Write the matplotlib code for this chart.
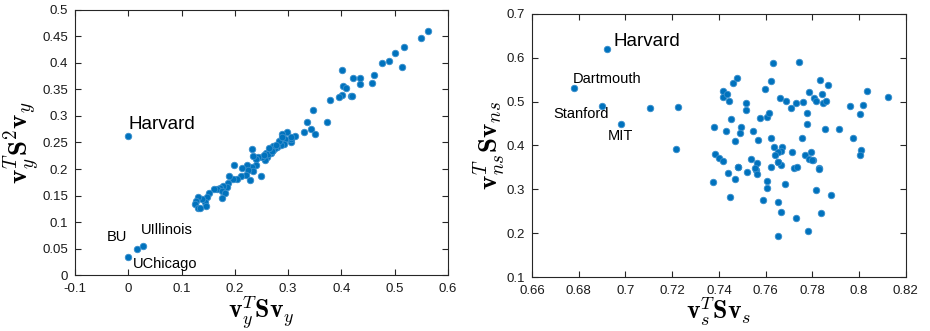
import numpy as np
import matplotlib
matplotlib.use("Agg")
import matplotlib.pyplot as plt

plt.rcParams['font.family'] = ['Liberation Sans', 'DejaVu Sans']
plt.rcParams['mathtext.fontset'] = 'cm'

# ---------------- data ----------------
# left panel: v_y^T S v_y  vs  v_y^T S^2 v_y
left_x = [0.563, 0.550, 0.517, 0.501, 0.514, 0.489, 0.476, 0.461, 0.4575, 0.435,
          0.4226, 0.434, 0.4007, 0.403, 0.408, 0.4175, 0.420, 0.4007, 0.3956, 0.378,
          0.3476, 0.335, 0.373, 0.343, 0.351, 0.329, 0.3126, 0.298, 0.289, 0.306,
          0.306, 0.294, 0.285, 0.2325, 0.306, 0.2925, 0.286, 0.283, 0.2876, 0.279,
          0.272, 0.2676, 0.261, 0.256, 0.2594, 0.251, 0.2426, 0.240, 0.2338, 0.250,
          0.275, 0.266, 0.271, 0.2388, 0.2313, 0.2344, 0.2225, 0.225, 0.2206, 0.2276,
          0.2126, 0.1976, 0.2113, 0.2044, 0.197, 0.1894, 0.1875, 0.1856, 0.178, 0.172,
          0.1663, 0.1613, 0.1751, 0.1813, 0.1763, 0.1513, 0.147, 0.1438, 0.1388, 0.145,
          0.130, 0.1264, 0.125, 0.131, 0.135, 0.263, 0.269, 0.277, 0.255, 0.265,
          0.0, 0.0, 0.0163, 0.027]
left_y = [0.461, 0.447, 0.431, 0.418, 0.392, 0.403, 0.399, 0.377, 0.362, 0.372,
          0.371, 0.360, 0.387, 0.357, 0.352, 0.337, 0.337, 0.340, 0.335, 0.331,
          0.311, 0.289, 0.289, 0.275, 0.266, 0.269, 0.262, 0.270, 0.266, 0.251,
          0.256, 0.256, 0.250, 0.238, 0.261, 0.248, 0.246, 0.252, 0.261, 0.241,
          0.236, 0.231, 0.223, 0.217, 0.2296, 0.223, 0.223, 0.219, 0.2245, 0.187,
          0.239, 0.237, 0.243, 0.2075, 0.203, 0.196, 0.2075, 0.198, 0.1887, 0.179,
          0.201, 0.2075, 0.187, 0.1806, 0.182, 0.187, 0.174, 0.1655, 0.168, 0.164,
          0.1628, 0.1623, 0.159, 0.154, 0.1447, 0.154, 0.1466, 0.1377, 0.1428, 0.130,
          0.1466, 0.140, 0.134, 0.126, 0.126, 0.228, 0.234, 0.245, 0.226, 0.240,
          0.262, 0.0334, 0.0485, 0.054]
left_names = ['Harvard', 'BU', 'UIllinois', 'UChicago']
left_name_pos = [(0.001, 0.284), (-0.0405, 0.0717), (0.0234, 0.085), (0.0086, 0.0208)]
left_name_size = [13.5, 10.5, 10.5, 10.5]

# right panel: v_s^T S v_s  vs  v_ns^T S v_ns
right_x = [0.692, 0.678, 0.690, 0.698, 0.7105, 0.7225, 0.7216, 0.738, 0.7418, 0.7416,
           0.7433, 0.7442, 0.746, 0.7477, 0.7451, 0.743, 0.7494, 0.7491, 0.7471, 0.7517,
           0.7516, 0.7547, 0.7569, 0.7578, 0.7604, 0.7613, 0.7597, 0.7621, 0.7631, 0.7662,
           0.7688, 0.7708, 0.7728, 0.7743, 0.7762, 0.7779, 0.7779, 0.7786, 0.7806, 0.7815,
           0.7831, 0.7842, 0.7846, 0.7857, 0.7868, 0.7852, 0.7915, 0.7962, 0.8003, 0.8016,
           0.8035, 0.8122, 0.7975, 0.8009, 0.8006, 0.7622, 0.7634, 0.7668, 0.7667, 0.7652,
           0.7638, 0.7713, 0.7754, 0.7768, 0.7794, 0.7786, 0.7802, 0.7383, 0.7401, 0.7416,
           0.7538, 0.7561, 0.7480, 0.7654, 0.7664, 0.7622, 0.7722, 0.7735, 0.7828, 0.7374,
           0.7447, 0.7437, 0.7467, 0.7481, 0.7520, 0.7558, 0.7561, 0.7553, 0.7604, 0.7605,
           0.7587, 0.7651, 0.7682, 0.7651, 0.7667, 0.7655, 0.7731, 0.7782, 0.7815, 0.7835,
           0.7878, 0.7827, 0.7799]
right_y = [0.620, 0.530, 0.490, 0.450, 0.4856, 0.488, 0.392, 0.442, 0.525, 0.511,
           0.517, 0.501, 0.543, 0.553, 0.460, 0.433, 0.442, 0.429, 0.411, 0.497,
           0.481, 0.432, 0.413, 0.463, 0.465, 0.474, 0.528, 0.546, 0.588, 0.508,
           0.501, 0.485, 0.496, 0.590, 0.499, 0.473, 0.448, 0.522, 0.508, 0.501,
           0.549, 0.517, 0.497, 0.501, 0.537, 0.437, 0.437, 0.489, 0.471, 0.492,
           0.524, 0.511, 0.418, 0.390, 0.378, 0.416, 0.397, 0.397, 0.387, 0.385,
           0.378, 0.386, 0.418, 0.378, 0.385, 0.369, 0.368, 0.381, 0.371, 0.365,
           0.369, 0.359, 0.352, 0.363, 0.356, 0.350, 0.348, 0.350, 0.348, 0.316,
           0.283, 0.337, 0.324, 0.351, 0.340, 0.344, 0.335, 0.348, 0.320, 0.304,
           0.275, 0.270, 0.312, 0.362, 0.248, 0.193, 0.234, 0.205, 0.298, 0.246,
           0.287, 0.347, 0.367]
right_names = ['Harvard', 'Dartmouth', 'Stanford', 'MIT']
right_name_pos = [(0.695, 0.637), (0.6776, 0.552), (0.669, 0.472), (0.6926, 0.422)]
right_name_size = [13.5, 10.5, 10.5, 10.5]

left_xticks = [-0.1, 0, 0.1, 0.2, 0.3, 0.4, 0.5, 0.6]
left_xlabels = ['-0.1', '0', '0.1', '0.2', '0.3', '0.4', '0.5', '0.6']
left_yticks = [0, 0.05, 0.1, 0.15, 0.2, 0.25, 0.3, 0.35, 0.4, 0.45, 0.5]
left_ylabels = ['0', '0.05', '0.1', '0.15', '0.2', '0.25', '0.3', '0.35', '0.4', '0.45', '0.5']
right_xticks = [0.66, 0.68, 0.70, 0.72, 0.74, 0.76, 0.78, 0.80, 0.82]
right_xlabels = ['0.66', '0.68', '0.7', '0.72', '0.74', '0.76', '0.78', '0.8', '0.82']
right_yticks = [0.1, 0.2, 0.3, 0.4, 0.5, 0.6, 0.7]
right_ylabels = ['0.1', '0.2', '0.3', '0.4', '0.5', '0.6', '0.7']

# ---------------- plotting ----------------
dot_color = '#0072BD'
axis_color = '#262626'

fig = plt.figure(figsize=(9.3, 3.31), dpi=100)
ax1 = fig.add_axes([0.0806, 0.169, 0.4011, 0.801])
ax2 = fig.add_axes([0.572, 0.163, 0.402, 0.795])


def style_axis(ax):
    for sp in ax.spines.values():
        sp.set_color(axis_color)
        sp.set_linewidth(0.8)
    ax.tick_params(direction='in', top=True, right=True, length=4, width=0.8,
                   colors=axis_color, labelsize=9.5, labelcolor='#1a1a1a')
    ax.tick_params(axis='y', pad=5)
    ax.tick_params(axis='x', pad=6)


ax1.scatter(left_x, left_y, s=22, color=dot_color, edgecolors='#3a8fcc', linewidths=0.6, zorder=3)
for name, (tx, ty), fs in zip(left_names, left_name_pos, left_name_size):
    ax1.text(tx, ty, name, fontsize=fs, va='center', ha='left')
ax1.set_xlim(-0.1, 0.6)
ax1.set_ylim(0, 0.5)
ax1.set_xticks(left_xticks)
ax1.set_xticklabels(left_xlabels)
ax1.set_yticks(left_yticks)
ax1.set_yticklabels(left_ylabels)
ax1.set_xlabel(r'$\mathbf{v}_y^T\mathbf{S}\mathbf{v}_y$', fontsize=18.5, labelpad=-1)
ax1.set_ylabel(r'$\mathbf{v}_y^T\mathbf{S}^2\mathbf{v}_y$', fontsize=19.5, labelpad=0)
style_axis(ax1)

ax2.scatter(right_x, right_y, s=22, color=dot_color, edgecolors='#3a8fcc', linewidths=0.6, zorder=3)
for name, (tx, ty), fs in zip(right_names, right_name_pos, right_name_size):
    ax2.text(tx, ty, name, fontsize=fs, va='center', ha='left')
ax2.set_xlim(0.66, 0.82)
ax2.set_ylim(0.1, 0.7)
ax2.set_xticks(right_xticks)
ax2.set_xticklabels(right_xlabels)
ax2.set_yticks(right_yticks)
ax2.set_yticklabels(right_ylabels)
ax2.set_xlabel(r'$\mathbf{v}_s^T\mathbf{S}\mathbf{v}_s$', fontsize=18.5, labelpad=-1)
ax2.set_ylabel(r'$\mathbf{v}_{ns}^T\mathbf{S}\mathbf{v}_{ns}$', fontsize=19.5, labelpad=0)
style_axis(ax2)

fig.savefig('out.png', dpi=100)
